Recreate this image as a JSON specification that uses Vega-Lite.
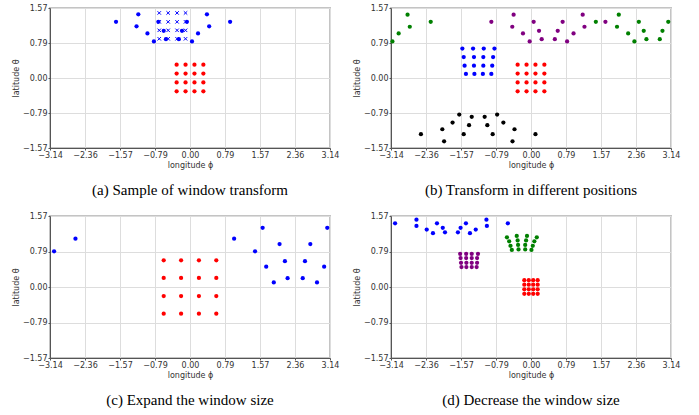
{
  "$schema": "https://vega.github.io/schema/vega-lite/v6.json",
  "padding": {"left": 11, "top": 3, "right": 0, "bottom": 0},
  "spacing": 12,
  "resolve": {"scale": {"color": "independent"}},
  "datasets": {
    "a": [
      {"lon": -0.3, "lat": 0.3, "series": "center"}, {"lon": -0.1, "lat": 0.3, "series": "center"}, {"lon": 0.1, "lat": 0.3, "series": "center"}, {"lon": 0.3, "lat": 0.3, "series": "center"},
      {"lon": -0.3, "lat": 0.1, "series": "center"}, {"lon": -0.1, "lat": 0.1, "series": "center"}, {"lon": 0.1, "lat": 0.1, "series": "center"}, {"lon": 0.3, "lat": 0.1, "series": "center"},
      {"lon": -0.3, "lat": -0.1, "series": "center"}, {"lon": -0.1, "lat": -0.1, "series": "center"}, {"lon": 0.1, "lat": -0.1, "series": "center"}, {"lon": 0.3, "lat": -0.1, "series": "center"},
      {"lon": -0.3, "lat": -0.3, "series": "center"}, {"lon": -0.1, "lat": -0.3, "series": "center"}, {"lon": 0.1, "lat": -0.3, "series": "center"}, {"lon": 0.3, "lat": -0.3, "series": "center"},
      {"lon": -0.69, "lat": 1.46, "series": "sampled"}, {"lon": -0.49, "lat": 1.46, "series": "sampled"}, {"lon": -0.29, "lat": 1.46, "series": "sampled"}, {"lon": -0.1, "lat": 1.46, "series": "sampled"},
      {"lon": -0.69, "lat": 1.26, "series": "sampled"}, {"lon": -0.49, "lat": 1.26, "series": "sampled"}, {"lon": -0.29, "lat": 1.26, "series": "sampled"}, {"lon": -0.1, "lat": 1.26, "series": "sampled"},
      {"lon": -0.69, "lat": 1.07, "series": "sampled"}, {"lon": -0.49, "lat": 1.07, "series": "sampled"}, {"lon": -0.29, "lat": 1.07, "series": "sampled"}, {"lon": -0.1, "lat": 1.07, "series": "sampled"},
      {"lon": -0.69, "lat": 0.88, "series": "sampled"}, {"lon": -0.49, "lat": 0.88, "series": "sampled"}, {"lon": -0.29, "lat": 0.88, "series": "sampled"}, {"lon": -0.1, "lat": 0.88, "series": "sampled"},
      {"lon": -1.66, "lat": 1.26, "series": "window"}, {"lon": -1.16, "lat": 1.43, "series": "window"}, {"lon": -1.2, "lat": 1.16, "series": "window"}, {"lon": -0.955, "lat": 1.0, "series": "window"},
      {"lon": -0.81, "lat": 0.82, "series": "window"}, {"lon": -0.71, "lat": 1.26, "series": "window"}, {"lon": -0.59, "lat": 1.06, "series": "window"}, {"lon": -0.54, "lat": 0.87, "series": "window"},
      {"lon": -0.25, "lat": 0.87, "series": "window"}, {"lon": -0.18, "lat": 1.06, "series": "window"}, {"lon": -0.07, "lat": 1.26, "series": "window"}, {"lon": 0.045, "lat": 0.82, "series": "window"},
      {"lon": 0.18, "lat": 1.0, "series": "window"}, {"lon": 0.38, "lat": 1.43, "series": "window"}, {"lon": 0.43, "lat": 1.16, "series": "window"}, {"lon": 0.9, "lat": 1.26, "series": "window"}
    ],
    "b": [
      {"lon": -0.3, "lat": 0.3, "series": "center"}, {"lon": -0.1, "lat": 0.3, "series": "center"}, {"lon": 0.1, "lat": 0.3, "series": "center"}, {"lon": 0.3, "lat": 0.3, "series": "center"},
      {"lon": -0.3, "lat": 0.1, "series": "center"}, {"lon": -0.1, "lat": 0.1, "series": "center"}, {"lon": 0.1, "lat": 0.1, "series": "center"}, {"lon": 0.3, "lat": 0.1, "series": "center"},
      {"lon": -0.3, "lat": -0.1, "series": "center"}, {"lon": -0.1, "lat": -0.1, "series": "center"}, {"lon": 0.1, "lat": -0.1, "series": "center"}, {"lon": 0.3, "lat": -0.1, "series": "center"},
      {"lon": -0.3, "lat": -0.3, "series": "center"}, {"lon": -0.1, "lat": -0.3, "series": "center"}, {"lon": 0.1, "lat": -0.3, "series": "center"}, {"lon": 0.3, "lat": -0.3, "series": "center"},
      {"lon": -1.54, "lat": 0.66, "series": "west"}, {"lon": -1.3, "lat": 0.66, "series": "west"}, {"lon": -1.06, "lat": 0.66, "series": "west"}, {"lon": -0.82, "lat": 0.66, "series": "west"},
      {"lon": -1.51, "lat": 0.47, "series": "west"}, {"lon": -1.28, "lat": 0.47, "series": "west"}, {"lon": -1.07, "lat": 0.47, "series": "west"}, {"lon": -0.85, "lat": 0.47, "series": "west"},
      {"lon": -1.49, "lat": 0.275, "series": "west"}, {"lon": -1.28, "lat": 0.275, "series": "west"}, {"lon": -1.07, "lat": 0.275, "series": "west"}, {"lon": -0.87, "lat": 0.275, "series": "west"},
      {"lon": -1.46, "lat": 0.09, "series": "west"}, {"lon": -1.27, "lat": 0.09, "series": "west"}, {"lon": -1.08, "lat": 0.09, "series": "west"}, {"lon": -0.89, "lat": 0.09, "series": "west"},
      {"lon": -1.61, "lat": -0.82, "series": "south"}, {"lon": -0.76, "lat": -0.82, "series": "south"}, {"lon": -1.33, "lat": -0.87, "series": "south"}, {"lon": -1.04, "lat": -0.87, "series": "south"},
      {"lon": -1.76, "lat": -1.0, "series": "south"}, {"lon": -0.62, "lat": -1.0, "series": "south"}, {"lon": -1.39, "lat": -1.06, "series": "south"}, {"lon": -0.98, "lat": -1.06, "series": "south"},
      {"lon": -1.99, "lat": -1.15, "series": "south"}, {"lon": -0.37, "lat": -1.15, "series": "south"}, {"lon": -2.47, "lat": -1.26, "series": "south"}, {"lon": -1.51, "lat": -1.26, "series": "south"},
      {"lon": -0.86, "lat": -1.26, "series": "south"}, {"lon": 0.1, "lat": -1.26, "series": "south"}, {"lon": -1.95, "lat": -1.42, "series": "south"}, {"lon": -0.415, "lat": -1.42, "series": "south"},
      {"lon": -0.89, "lat": 1.26, "series": "north"}, {"lon": -0.39, "lat": 1.42, "series": "north"}, {"lon": -0.42, "lat": 1.15, "series": "north"}, {"lon": -0.18, "lat": 1.0, "series": "north"},
      {"lon": -0.03, "lat": 0.82, "series": "north"}, {"lon": 0.06, "lat": 1.26, "series": "north"}, {"lon": 0.18, "lat": 1.06, "series": "north"}, {"lon": 0.24, "lat": 0.87, "series": "north"},
      {"lon": 0.535, "lat": 0.87, "series": "north"}, {"lon": 0.6, "lat": 1.06, "series": "north"}, {"lon": 0.71, "lat": 1.26, "series": "north"}, {"lon": 0.81, "lat": 0.82, "series": "north"},
      {"lon": 0.955, "lat": 1.0, "series": "north"}, {"lon": 1.16, "lat": 1.42, "series": "north"}, {"lon": 1.2, "lat": 1.15, "series": "north"}, {"lon": 1.67, "lat": 1.26, "series": "north"},
      {"lon": -3.11, "lat": 0.82, "series": "dateline"}, {"lon": -2.97, "lat": 1.0, "series": "dateline"}, {"lon": -2.77, "lat": 1.42, "series": "dateline"}, {"lon": -2.72, "lat": 1.15, "series": "dateline"},
      {"lon": -2.25, "lat": 1.26, "series": "dateline"}, {"lon": 1.455, "lat": 1.26, "series": "dateline"}, {"lon": 1.93, "lat": 1.15, "series": "dateline"}, {"lon": 1.97, "lat": 1.42, "series": "dateline"},
      {"lon": 2.18, "lat": 1.0, "series": "dateline"}, {"lon": 2.32, "lat": 0.82, "series": "dateline"}, {"lon": 2.42, "lat": 1.26, "series": "dateline"}, {"lon": 2.53, "lat": 1.06, "series": "dateline"},
      {"lon": 2.59, "lat": 0.87, "series": "dateline"}, {"lon": 2.89, "lat": 0.87, "series": "dateline"}, {"lon": 2.95, "lat": 1.06, "series": "dateline"}, {"lon": 3.08, "lat": 1.26, "series": "dateline"}
    ],
    "c": [
      {"lon": -0.59, "lat": 0.59, "series": "center"}, {"lon": -0.2, "lat": 0.59, "series": "center"}, {"lon": 0.2, "lat": 0.59, "series": "center"}, {"lon": 0.59, "lat": 0.59, "series": "center"},
      {"lon": -0.59, "lat": 0.2, "series": "center"}, {"lon": -0.2, "lat": 0.2, "series": "center"}, {"lon": 0.2, "lat": 0.2, "series": "center"}, {"lon": 0.59, "lat": 0.2, "series": "center"},
      {"lon": -0.59, "lat": -0.2, "series": "center"}, {"lon": -0.2, "lat": -0.2, "series": "center"}, {"lon": 0.2, "lat": -0.2, "series": "center"}, {"lon": 0.59, "lat": -0.2, "series": "center"},
      {"lon": -0.59, "lat": -0.59, "series": "center"}, {"lon": -0.2, "lat": -0.59, "series": "center"}, {"lon": 0.2, "lat": -0.59, "series": "center"}, {"lon": 0.59, "lat": -0.59, "series": "center"},
      {"lon": -3.05, "lat": 0.79, "series": "window"}, {"lon": -2.57, "lat": 1.07, "series": "window"}, {"lon": 0.99, "lat": 1.07, "series": "window"}, {"lon": 1.46, "lat": 0.79, "series": "window"},
      {"lon": 1.63, "lat": 1.31, "series": "window"}, {"lon": 1.71, "lat": 0.45, "series": "window"}, {"lon": 1.88, "lat": 0.1, "series": "window"}, {"lon": 2.01, "lat": 0.95, "series": "window"},
      {"lon": 2.13, "lat": 0.57, "series": "window"}, {"lon": 2.19, "lat": 0.195, "series": "window"}, {"lon": 2.53, "lat": 0.195, "series": "window"}, {"lon": 2.58, "lat": 0.57, "series": "window"},
      {"lon": 2.7, "lat": 0.95, "series": "window"}, {"lon": 2.85, "lat": 0.1, "series": "window"}, {"lon": 3.01, "lat": 0.45, "series": "window"}, {"lon": 3.08, "lat": 1.31, "series": "window"}
    ],
    "d": [
      {"lon": -0.15, "lat": 0.15, "series": "center"}, {"lon": -0.05, "lat": 0.15, "series": "center"}, {"lon": 0.05, "lat": 0.15, "series": "center"}, {"lon": 0.15, "lat": 0.15, "series": "center"},
      {"lon": -0.15, "lat": 0.05, "series": "center"}, {"lon": -0.05, "lat": 0.05, "series": "center"}, {"lon": 0.05, "lat": 0.05, "series": "center"}, {"lon": 0.15, "lat": 0.05, "series": "center"},
      {"lon": -0.15, "lat": -0.05, "series": "center"}, {"lon": -0.05, "lat": -0.05, "series": "center"}, {"lon": 0.05, "lat": -0.05, "series": "center"}, {"lon": 0.15, "lat": -0.05, "series": "center"},
      {"lon": -0.15, "lat": -0.15, "series": "center"}, {"lon": -0.05, "lat": -0.15, "series": "center"}, {"lon": 0.05, "lat": -0.15, "series": "center"}, {"lon": 0.15, "lat": -0.15, "series": "center"},
      {"lon": -1.59, "lat": 0.735, "series": "west"}, {"lon": -1.455, "lat": 0.735, "series": "west"}, {"lon": -1.33, "lat": 0.735, "series": "west"}, {"lon": -1.19, "lat": 0.735, "series": "west"},
      {"lon": -1.58, "lat": 0.64, "series": "west"}, {"lon": -1.455, "lat": 0.64, "series": "west"}, {"lon": -1.33, "lat": 0.64, "series": "west"}, {"lon": -1.21, "lat": 0.64, "series": "west"},
      {"lon": -1.57, "lat": 0.535, "series": "west"}, {"lon": -1.45, "lat": 0.535, "series": "west"}, {"lon": -1.33, "lat": 0.535, "series": "west"}, {"lon": -1.21, "lat": 0.535, "series": "west"},
      {"lon": -1.56, "lat": 0.44, "series": "west"}, {"lon": -1.45, "lat": 0.44, "series": "west"}, {"lon": -1.33, "lat": 0.44, "series": "west"}, {"lon": -1.22, "lat": 0.44, "series": "west"},
      {"lon": -0.54, "lat": 1.1, "series": "north"}, {"lon": -0.32, "lat": 1.13, "series": "north"}, {"lon": -0.09, "lat": 1.13, "series": "north"}, {"lon": 0.13, "lat": 1.1, "series": "north"},
      {"lon": -0.49, "lat": 1.01, "series": "north"}, {"lon": -0.3, "lat": 1.03, "series": "north"}, {"lon": -0.11, "lat": 1.03, "series": "north"}, {"lon": 0.075, "lat": 1.01, "series": "north"},
      {"lon": -0.46, "lat": 0.91, "series": "north"}, {"lon": -0.29, "lat": 0.93, "series": "north"}, {"lon": -0.13, "lat": 0.93, "series": "north"}, {"lon": 0.04, "lat": 0.91, "series": "north"},
      {"lon": -0.43, "lat": 0.82, "series": "north"}, {"lon": -0.28, "lat": 0.83, "series": "north"}, {"lon": -0.13, "lat": 0.83, "series": "north"}, {"lon": 0.01, "lat": 0.82, "series": "north"},
      {"lon": -3.05, "lat": 1.41, "series": "pole"}, {"lon": -2.57, "lat": 1.49, "series": "pole"}, {"lon": -2.57, "lat": 1.35, "series": "pole"}, {"lon": -2.34, "lat": 1.27, "series": "pole"},
      {"lon": -2.2, "lat": 1.19, "series": "pole"}, {"lon": -2.11, "lat": 1.41, "series": "pole"}, {"lon": -1.98, "lat": 1.31, "series": "pole"}, {"lon": -1.93, "lat": 1.21, "series": "pole"},
      {"lon": -1.64, "lat": 1.21, "series": "pole"}, {"lon": -1.58, "lat": 1.31, "series": "pole"}, {"lon": -1.46, "lat": 1.41, "series": "pole"}, {"lon": -1.37, "lat": 1.19, "series": "pole"},
      {"lon": -1.24, "lat": 1.27, "series": "pole"}, {"lon": -1.0, "lat": 1.49, "series": "pole"}, {"lon": -0.99, "lat": 1.35, "series": "pole"}, {"lon": -0.52, "lat": 1.41, "series": "pole"}
    ]
  },
  "vconcat": [
    {
      "hconcat": [
        {
          "width": 280, "height": 140,
          "title": "(a) Sample of window transform",
          "data": {"name": "a"},
          "encoding": {
            "x": {"field": "lon", "type": "quantitative", "scale": {"domain": [-3.14159, 3.14159], "nice": false, "zero": false}, "axis": {"values": [-3.14159, -2.35619, -1.5708, -0.7854, 0, 0.7854, 1.5708, 2.35619, 3.14159], "format": ".2f", "title": "longitude ϕ", "labelOverlap": false}},
            "y": {"field": "lat", "type": "quantitative", "scale": {"domain": [-1.5708, 1.5708], "nice": false, "zero": false}, "axis": {"values": [-1.5708, -0.7854, 0, 0.7854, 1.5708], "format": ".2f", "title": "latitude θ", "labelOverlap": false}}
          },
          "layer": [
            {
              "transform": [{"filter": "datum.series !== 'sampled'"}],
              "mark": {"type": "point", "shape": "circle", "filled": true, "size": 18, "opacity": 1},
              "encoding": {
                "color": {"field": "series", "type": "nominal", "scale": {"domain": ["center", "window"], "range": ["#ff0000", "#0000ff"]}, "legend": null}
              }
            },
            {
              "transform": [{"filter": "datum.series === 'sampled'"}],
              "mark": {"type": "point", "shape": "M-1,-1L1,1M-1,1L1,-1", "filled": false, "size": 12, "stroke": "#0000ff", "strokeWidth": 1, "opacity": 1},
              "encoding": {}
            }
          ]
        },
        {
          "width": 280, "height": 140,
          "title": "(b) Transform in different positions",
          "data": {"name": "b"},
          "mark": {"type": "point", "shape": "circle", "filled": true, "size": 18, "opacity": 1},
          "encoding": {
            "x": {"field": "lon", "type": "quantitative", "scale": {"domain": [-3.14159, 3.14159], "nice": false, "zero": false}, "axis": {"values": [-3.14159, -2.35619, -1.5708, -0.7854, 0, 0.7854, 1.5708, 2.35619, 3.14159], "format": ".2f", "title": "longitude ϕ", "labelOverlap": false}},
            "y": {"field": "lat", "type": "quantitative", "scale": {"domain": [-1.5708, 1.5708], "nice": false, "zero": false}, "axis": {"values": [-1.5708, -0.7854, 0, 0.7854, 1.5708], "format": ".2f", "title": "latitude θ", "labelOverlap": false}},
            "color": {"field": "series", "type": "nominal", "scale": {"domain": ["center", "west", "south", "north", "dateline"], "range": ["#ff0000", "#0000ff", "#000000", "#800080", "#008000"]}, "legend": null}
          }
        }
      ],
      "spacing": 12,
      "resolve": {"scale": {"color": "independent"}}
    },
    {
      "hconcat": [
        {
          "width": 280, "height": 142,
          "title": "(c) Expand the window size",
          "data": {"name": "c"},
          "mark": {"type": "point", "shape": "circle", "filled": true, "size": 18, "opacity": 1},
          "encoding": {
            "x": {"field": "lon", "type": "quantitative", "scale": {"domain": [-3.14159, 3.14159], "nice": false, "zero": false}, "axis": {"values": [-3.14159, -2.35619, -1.5708, -0.7854, 0, 0.7854, 1.5708, 2.35619, 3.14159], "format": ".2f", "title": "longitude ϕ", "labelOverlap": false}},
            "y": {"field": "lat", "type": "quantitative", "scale": {"domain": [-1.5708, 1.5708], "nice": false, "zero": false}, "axis": {"values": [-1.5708, -0.7854, 0, 0.7854, 1.5708], "format": ".2f", "title": "latitude θ", "labelOverlap": false}},
            "color": {"field": "series", "type": "nominal", "scale": {"domain": ["center", "window"], "range": ["#ff0000", "#0000ff"]}, "legend": null}
          }
        },
        {
          "width": 280, "height": 142,
          "title": "(d) Decrease the window size",
          "data": {"name": "d"},
          "mark": {"type": "point", "shape": "circle", "filled": true, "size": 18, "opacity": 1},
          "encoding": {
            "x": {"field": "lon", "type": "quantitative", "scale": {"domain": [-3.14159, 3.14159], "nice": false, "zero": false}, "axis": {"values": [-3.14159, -2.35619, -1.5708, -0.7854, 0, 0.7854, 1.5708, 2.35619, 3.14159], "format": ".2f", "title": "longitude ϕ", "labelOverlap": false}},
            "y": {"field": "lat", "type": "quantitative", "scale": {"domain": [-1.5708, 1.5708], "nice": false, "zero": false}, "axis": {"values": [-1.5708, -0.7854, 0, 0.7854, 1.5708], "format": ".2f", "title": "latitude θ", "labelOverlap": false}},
            "color": {"field": "series", "type": "nominal", "scale": {"domain": ["center", "west", "north", "pole"], "range": ["#ff0000", "#800080", "#008000", "#0000ff"]}, "legend": null}
          }
        }
      ],
      "spacing": 12,
      "resolve": {"scale": {"color": "independent"}}
    }
  ],
  "config": {
    "view": {"stroke": "#c4c4c4", "strokeWidth": 2},
    "axis": {
      "labelFont": "DejaVu Sans", "labelFontSize": 8, "labelColor": "#333333",
      "titleFont": "DejaVu Sans", "titleFontSize": 8, "titleFontWeight": "normal", "titleColor": "#333333",
      "gridColor": "#dddddd", "gridWidth": 1,
      "domainColor": "#555555", "tickColor": "#555555", "tickSize": 2,
      "labelPadding": 1, "titlePadding": 2,
      "labelFlush": false, "labelOverlap": false, "labelBound": false
    },
    "title": {"font": "Liberation Serif", "fontSize": 15, "fontWeight": "normal", "orient": "bottom", "offset": 14, "color": "#000000", "anchor": "middle"}
  }
}
